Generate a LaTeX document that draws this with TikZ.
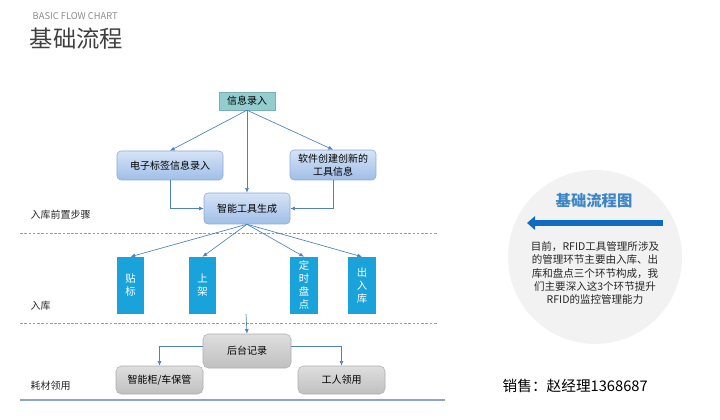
\documentclass[tikz,border=0pt]{standalone}
\usepackage{fontspec}
\setmainfont{Noto Sans CJK SC}
\usetikzlibrary{arrows.meta,positioning}

\definecolor{lineblue}{RGB}{79,129,189}
\definecolor{dashblue}{RGB}{130,160,210}
\definecolor{boxtop}{RGB}{214,227,245}
\definecolor{boxbot}{RGB}{160,190,232}
\definecolor{boxline}{RGB}{140,170,215}
\definecolor{tealfill}{RGB}{146,206,208}
\definecolor{tagblue}{RGB}{26,163,218}
\definecolor{greytop}{RGB}{222,222,222}
\definecolor{greybot}{RGB}{192,192,192}
\definecolor{titleblue}{RGB}{61,133,198}
\definecolor{barblue}{RGB}{16,108,192}

\tikzset{
  flowarrow/.style={draw=lineblue, line width=0.5pt, -{Latex[length=3.5pt,width=3pt]}},
  bluebox/.style={rounded corners=3pt, draw=boxline, top color=boxtop, bottom color=boxbot,
    inner sep=0pt, align=center, font=\fontsize{7.5}{9.5}\selectfont},
  tagbox/.style={fill=tagblue, text=white, inner sep=0pt, align=center,
    minimum width=20.5pt, minimum height=42.75pt, font=\fontsize{7.8}{9.75}\selectfont},
  greybox/.style={rounded corners=4pt, draw=greybot!90!black, top color=greytop, bottom color=greybot,
    inner sep=0pt, minimum width=65.25pt, font=\fontsize{7.5}{9.5}\selectfont},
  steplabel/.style={anchor=west, font=\fontsize{7.5}{9}\selectfont, text=black!85},
  stageline/.style={dashblue, line width=0.6pt, dash pattern=on 2pt off 1.2pt}
}

\begin{document}
\begin{tikzpicture}[x=0.75pt, y=-0.75pt]
    \useasboundingbox (0,0) rectangle (720,420);

    % --- heading ---
    \node[anchor=west, text=black!45, font=\fontsize{7}{8}\selectfont] (sub) at (28,16) {BASIC FLOW CHART};
    \node[anchor=west, text=black!75, font=\fontsize{17.5}{20}\selectfont] (title) at (25,39) {基础流程};

    % --- stage separators ---
    \draw[stageline] (20,233) -- (437,233);
    \draw[stageline] (20,323) -- (437,323);
    \draw[boxline!90!gray, line width=1.2pt] (20,400) -- (445,400);

    \node[steplabel] (pre) at (26,215) {入库前置步骤};
    \node[steplabel] (stock) at (26,306) {入库};
    \node[steplabel] (use) at (26,386) {耗材领用};

    % --- pre-stock steps ---
    \node[fill=tealfill, draw=tealfill!85!black, line width=0.3pt, inner sep=0pt,
          minimum width=42pt, minimum height=13.5pt, font=\fontsize{7.5}{9}\selectfont]
          (info) at (247,101) {信息录入};
    \node[bluebox, minimum width=79.5pt, minimum height=21.75pt] (card) at (170,165.5) {电子标签信息录入};
    \node[bluebox, minimum width=64.5pt, minimum height=22.5pt] (soft) at (333,165) {软件创建创新的\\工具信息};
    \node[bluebox, minimum width=64.5pt, minimum height=23.25pt] (gen) at (247,208.5) {智能工具生成};

    \draw[flowarrow] (info.south) -- (card.north);
    \draw[flowarrow] (info.south) -- (gen.north);
    \draw[flowarrow] (info.south) -- (soft.north);
    \draw[flowarrow] (card.south) |- (gen.west);
    \draw[flowarrow] (soft.south) |- (gen.east);

    % --- stock-in ---
    \node[tagbox] (tag) at (130.5,285.5) {贴\\标};
    \node[tagbox] (shelf) at (202.5,285.5) {上\\架};
    \node[tagbox, minimum width=21pt] (check) at (304,285.5) {定\\时\\盘\\点};
    \node[tagbox, minimum width=21pt] (inout) at (362,285.5) {出\\入\\库};

    \foreach \t in {tag,shelf,check,inout}
      \draw[flowarrow] (gen.south) -- (\t.north);

    % --- consumable use ---
    \coordinate (drop) at (246,314);
    \node[greybox, minimum width=66pt, minimum height=25.5pt] (back) at (247,351) {后台记录};
    \node[greybox, minimum height=21pt] (cab) at (159.5,380) {智能柜/车保管};
    \node[greybox, minimum height=21pt] (worker) at (341.5,380) {工人领用};

    \draw[flowarrow] (drop) -- (back.north);
    \draw[flowarrow] ([yshift=3.75pt]back.west) -| (cab.north);
    \draw[flowarrow] ([yshift=3.75pt]back.east) -| (worker.north);

    % --- side note ---
    \fill[black!5] (595,257) circle (65.25pt);
    \node[text=titleblue, font=\fontsize{11.5}{13}\selectfont\bfseries] (notetitle) at (594,201) {基础流程图};
    \coordinate (barR) at (663,223);
    \coordinate (barL) at (527,223);
    \draw[barblue, line width=4.5pt, -{Triangle[length=6pt,width=10pt]}] (barR) -- (barL);
    \node[align=center, text=black!85, font=\fontsize{7.9}{10.1}\selectfont] (note) at (595,273)
      {目前，RFID工具管理所涉及\\的管理环节主要由入库、出\\库和盘点三个环节构成，我\\们主要深入这3个环节提升\\RFID的监控管理能力};

    \node[anchor=west, font=\fontsize{11}{12}\selectfont] (sales) at (498,386) {销售：赵经理1368687};

\end{tikzpicture}
\end{document}
